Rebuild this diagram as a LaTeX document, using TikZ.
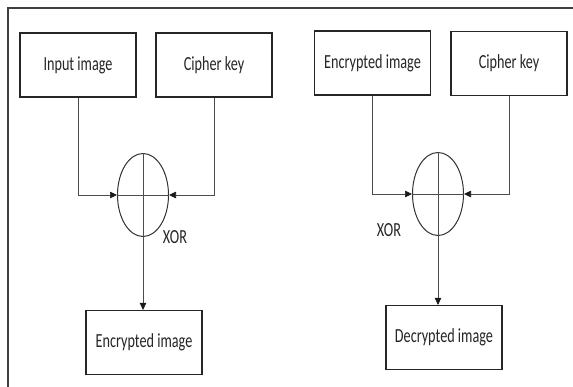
\documentclass[tikz,border=0pt]{standalone}
\usepackage{fontspec}
\setmainfont{Carlito}
\newfontfamily\narrowfont[FakeStretch=0.71]{Carlito}
\usetikzlibrary{shapes.geometric,arrows.meta}
\begin{document}
\begin{tikzpicture}[x=1pt,y=-1pt,
  blockbox/.style={draw=black!85,line width=1.2pt,minimum width=116pt,minimum height=64pt,
    inner sep=0pt,font=\narrowfont\fontsize{20}{22}\selectfont,text=black!85},
  xorgate/.style={ellipse,draw=black!80,line width=1pt,minimum width=51pt,minimum height=83pt,inner sep=0pt},
  wire/.style={draw=black!70,line width=0.7pt},
  feed/.style={wire,-{Triangle[length=7pt,width=6.5pt,color=black!90]}},
  gatelabel/.style={font=\narrowfont\fontsize{20}{22}\selectfont,text=black!85,inner sep=0pt}]
\useasboundingbox (0,0) rectangle (573,387);
\fill[white] (0,0) rectangle (573,387);
% frame edges
\coordinate (fc) at (8,8);
\coordinate (fr) at (573,8);
\coordinate (fb) at (8,387);
\draw[black!75,line width=1.5pt] (fb) -- (fc) -- (fr);

% encryption side
\node[blockbox] (inimg) at (78,65) {Input image};
\node[blockbox] (keyA) at (214,65) {Cipher key};
\node[xorgate] (xorA) at (143,195) {};
\node[blockbox] (encout) at (144,342.5) {Encrypted image};
\node[gatelabel] (xorAlbl) at (175,237) {XOR};
\draw[feed] (inimg.south) |- (xorA.west);
\draw[feed] (keyA.south) |- (xorA.east);
\draw[wire,line width=0.9pt] (xorA.west) -- (xorA.east);
\draw[wire,line width=0.9pt] (xorA.north) -- (xorA.south);
\draw[feed] (xorA.south) -- (xorA.south |- encout.north);

% decryption side
\node[blockbox] (encin) at (372.5,63) {Encrypted image};
\node[blockbox] (keyB) at (509,63.5) {Cipher key};
\node[xorgate] (xorB) at (438,194) {};
\node[blockbox] (decout) at (444,337.5) {Decrypted image};
\node[gatelabel] (xorBlbl) at (389,230) {XOR};
\draw[feed] (encin.south) |- (xorB.west);
\draw[feed] (keyB.south) |- (xorB.east);
\draw[wire,line width=0.9pt] (xorB.west) -- (xorB.east);
\draw[wire,line width=0.9pt] (xorB.north) -- (xorB.south);
\draw[feed] (xorB.south) -- (xorB.south |- decout.north);
\end{tikzpicture}
\end{document}
